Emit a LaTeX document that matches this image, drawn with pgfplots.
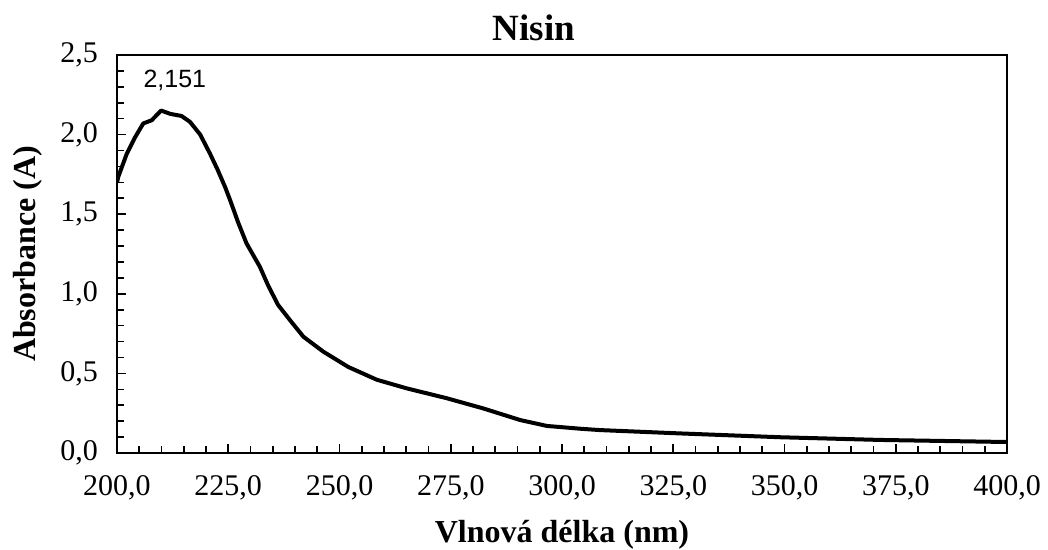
\documentclass[border=0pt]{standalone}
\usepackage{fontspec}
\setmainfont{Liberation Serif}
\newfontfamily\annfont{Liberation Sans}
\usepackage{pgfplots}
\pgfplotsset{compat=1.18}
\begin{document}
\begin{tikzpicture}
\useasboundingbox (-58.5pt,-48.5pt) rectangle (465.5pt,226.5pt);
\begin{axis}[
  at={(0,0)}, anchor=south west,
  scale only axis, width=445pt, height=199pt,
  xmin=200, xmax=400, ymin=0, ymax=2.5,
  xtick={200,225,...,400}, minor x tick num=4,
  ytick={0,0.5,...,2.5}, minor y tick num=4,
  tick align=inside,
  major tick length=4.5pt, minor tick length=3.5pt,
  tick style={black, line width=0.8pt},
  axis line style={black, line width=1pt},
  xtick pos=bottom, ytick pos=left,
  /pgf/number format/.cd, fixed, fixed zerofill, precision=1, use comma, 1000 sep={}, assume math mode=true,
  /pgfplots/.cd,
  ticklabel style={font=\fontsize{15}{16}\selectfont},
  title={\fontsize{18.5}{20}\selectfont\bfseries Nisin},
  title style={at={(axis description cs:0.4685,1.0377)}, anchor=center, yshift=0pt},
  xlabel={\fontsize{16}{18}\selectfont\bfseries Vlnová délka (nm)},
  ylabel={\fontsize{16}{18}\selectfont\bfseries Absorbance (A)},
  xlabel style={at={(axis description cs:0.5,-0.206)}, anchor=center},
  ylabel style={at={(axis description cs:-0.1,0.5)}, anchor=center},
  xticklabel style={yshift=-7.5pt},
  yticklabel style={xshift=-6pt},
]
\addplot[black, line width=2pt, line join=round] coordinates {
(200,1.70) (200.3,1.736) (202.2,1.88) (204,1.98) (205.9,2.07) (207.8,2.09) (209.9,2.151)
(212,2.13) (214.5,2.117) (216.4,2.08) (218.7,2.0) (220.9,1.88) (222.6,1.78) (224.3,1.67)
(225.4,1.59) (227.2,1.45) (229.1,1.317) (232.1,1.17) (234,1.05) (236.2,0.93) (239,0.83)
(241.9,0.73) (246.4,0.636) (252,0.54) (258.4,0.46) (265.1,0.406) (274.1,0.344)
(282.3,0.28) (290.6,0.207) (296.6,0.17) (304.3,0.152) (308.5,0.144) (326.5,0.123)
(349,0.099) (371.5,0.082) (400,0.069)
};
\node[font=\annfont\fontsize{12.5}{14}\selectfont] at (axis cs:213,2.34) {2,151};
\end{axis}
\end{tikzpicture}
\end{document}
